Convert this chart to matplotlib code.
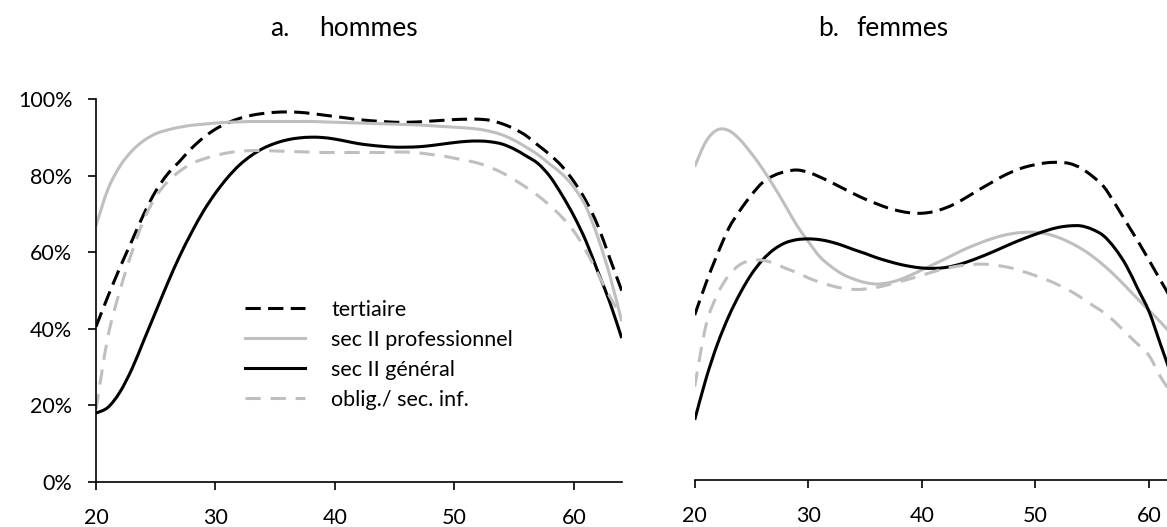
import numpy as np
import matplotlib
matplotlib.use("Agg")
import matplotlib.pyplot as plt
from matplotlib.path import Path
from matplotlib.patches import PathPatch
from matplotlib.lines import Line2D
from matplotlib.ticker import PercentFormatter

plt.rcParams['font.family'] = ['Lato', 'DejaVu Sans']

# ages 20..64
ages = list(range(20, 65))

# a. hommes
h_tert = [40.6, 48.5, 56, 63, 70, 76, 80.5, 83.8, 87.2, 90, 92.2, 93.8, 95, 95.8, 96.3,
          96.6, 96.7, 96.6, 96.3, 95.9, 95.5, 95.1, 94.7, 94.4, 94.2, 94.0, 94.0, 94.1, 94.3,
          94.5, 94.7, 94.8, 94.8, 94.5, 93.6, 92.3, 90.5, 88, 85.5, 82.5, 78.5, 73.5, 67,
          58.5, 50]
h_prof = [67, 76.5, 82.5, 86.5, 89.2, 91, 92, 92.7, 93.2, 93.5, 93.8, 94.0, 94.1, 94.2, 94.2,
          94.2, 94.2, 94.2, 94.2, 94.1, 94.0, 93.9, 93.8, 93.7, 93.6, 93.5, 93.4, 93.3, 93.1,
          92.9, 92.7, 92.5, 92.2, 91.6, 90.7, 89.3, 87.5, 85.5, 83, 80.5, 77, 72, 64, 54, 42]
h_gen = [18, 19.5, 23.5, 29.5, 37, 44.5, 52, 59, 65.2, 70.8, 75.5, 79.5, 82.8, 85.3, 87.2,
         88.5, 89.4, 89.9, 90.1, 90.0, 89.6, 89.0, 88.4, 88.0, 87.7, 87.5, 87.5, 87.6, 87.9,
         88.3, 88.7, 89.0, 89.1, 88.9, 88.3, 87.0, 85.2, 83.2, 79.8, 75, 69.5, 63, 55, 47, 37.6]
h_obl = [19, 38, 50, 60, 68.5, 74.5, 78.5, 81.2, 83.2, 84.4, 85.3, 86, 86.4, 86.6, 86.6,
         86.5, 86.4, 86.3, 86.2, 86.1, 86.1, 86.1, 86.1, 86.1, 86.1, 86.2, 86.2, 86.0, 85.6,
         85.2, 84.6, 84.0, 83.3, 82.2, 80.8, 79, 77, 74.8, 72.2, 69.2, 65.5, 60.5, 54.5, 48.5, 43]

# b. femmes
f_tert = [43.1, 51.5, 59, 65.8, 70.5, 74.5, 77.8, 79.6, 80.6, 81, 80.4, 79.2, 77.8, 76.3, 74.8,
          73.4, 72.2, 71.1, 70.3, 69.8, 69.7, 70.1, 71, 72.3, 74, 75.8, 77.5, 79.2, 80.6,
          81.7, 82.4, 82.9, 83, 82.7, 81.5, 79.4, 76.7, 72.2, 67.3, 62.5, 57.4, 52.2, 47, 41, 35]
f_prof = [81.9, 88.5, 91.5, 91.3, 88.9, 85.3, 81.2, 76.6, 71.6, 66.5, 62.3, 58.4, 55.8, 53.8, 52.5,
          51.6, 51.2, 51.5, 52.3, 53.5, 54.9, 56.3, 57.7, 59.2, 60.6, 61.8, 62.9, 63.8, 64.4,
          64.7, 64.7, 64.3, 63.4, 62.1, 60.5, 58.5, 56.1, 53.4, 50.4, 47.3, 44.3, 41.3, 38, 34.5, 31]
f_gen = [15.7, 26.5, 35.5, 42.8, 48.8, 53.8, 57.6, 60.3, 62, 62.8, 63, 62.8, 62.2, 61.3, 60.2,
         59.2, 58.1, 57.2, 56.4, 55.8, 55.4, 55.3, 55.5, 56.1, 57, 58.1, 59.3, 60.6, 61.9,
         63.1, 64.2, 65.2, 66, 66.4, 66.4, 65.5, 63.8, 60.5, 56, 50, 44, 35.5, 27, 18, 9]
f_obl = [24.4, 40.5, 48.5, 53.5, 56.3, 57.4, 57.4, 56.6, 55.3, 54.2, 52.8, 51.7, 50.8, 50.1, 49.8,
         49.9, 50.3, 51, 51.8, 52.6, 53.5, 54.4, 55.2, 55.8, 56.2, 56.4, 56.3, 55.9, 55.3,
         54.4, 53.4, 52.3, 51, 49.5, 47.7, 45.7, 43.8, 41.3, 38.3, 35.5, 32.5, 27, 22.5, 17.5, 12]

labels = ["tertiaire", "sec II professionnel", "sec II général", "oblig./ sec. inf."]
grey = "#BFBFBF"
styles = [("black", (0, (5, 2.4))),
          (grey, "solid"),
          ("black", "solid"),
          (grey, (0, (5, 3.2)))]
LW = 2.2


def smooth_path(xs, ys):
    # Catmull-Rom through the points, drawn as cubic Bezier segments
    p = np.column_stack([xs, ys])
    pp = np.vstack([p[0], p, p[-1]])
    verts = [p[0]]
    for i in range(len(p) - 1):
        a, b, c, d = pp[i], pp[i + 1], pp[i + 2], pp[i + 3]
        verts += [b + (c - a) / 6, c - (d - b) / 6, c]
    codes = [Path.MOVETO] + [Path.CURVE4] * (3 * (len(p) - 1))
    return Path(verts, codes)


fig = plt.figure(figsize=(11.67, 5.27), dpi=100)
ax1 = fig.add_axes([96/1167, 45/527, 525.7/1167, 382.7/527])
ax2 = fig.add_axes([694.7/1167, 47/527, 499.8/1167, 382.7/527])

x = np.array(ages, dtype=float)
for ax, series in [(ax1, [h_tert, h_prof, h_gen, h_obl]), (ax2, [f_tert, f_prof, f_gen, f_obl])]:
    for s, (col, ls) in zip(series, styles):
        ax.add_patch(PathPatch(smooth_path(x, np.array(s) / 100), fill=False,
                               edgecolor=col, lw=LW, linestyle=ls, capstyle='butt'))
    ax.set_xlim(20, 64)
    ax.set_ylim(0, 1)
    ax.set_xticks([20, 30, 40, 50, 60])
    ax.spines['top'].set_visible(False)
    ax.spines['right'].set_visible(False)
    ax.spines['bottom'].set_linewidth(1.2)
    ax.spines['left'].set_linewidth(1.2)
    ax.tick_params(direction='out', length=6, width=1.2, labelsize=15.5)
    ax.tick_params(axis='x', pad=13)
    ax.tick_params(axis='y', pad=11)

ax1.yaxis.set_major_formatter(PercentFormatter(1.0, decimals=0))
ax1.set_yticks([0, 0.2, 0.4, 0.6, 0.8, 1.0])
ax2.spines['left'].set_visible(False)
ax2.set_yticks([])

handles = [Line2D([], [], color=col, lw=LW, linestyle=ls) for col, ls in styles]
ax1.legend(handles, labels, loc='upper left', bbox_to_anchor=(245/1167, 1 - 300/527),
           bbox_transform=fig.transFigure, frameon=False, fontsize=15.5,
           handlelength=2.8, handletextpad=1.2, labelspacing=0.46,
           borderpad=0, borderaxespad=0)

ty = 1 - 29/527
fig.text(270/1167, ty, "a.", fontsize=19, ha='left', va='center')
fig.text(319/1167, ty, "hommes", fontsize=19, ha='left', va='center')
fig.text(818/1167, ty, "b.", fontsize=19, ha='left', va='center')
fig.text(856/1167, ty, "femmes", fontsize=19, ha='left', va='center')

fig.savefig("out.png", dpi=100)
